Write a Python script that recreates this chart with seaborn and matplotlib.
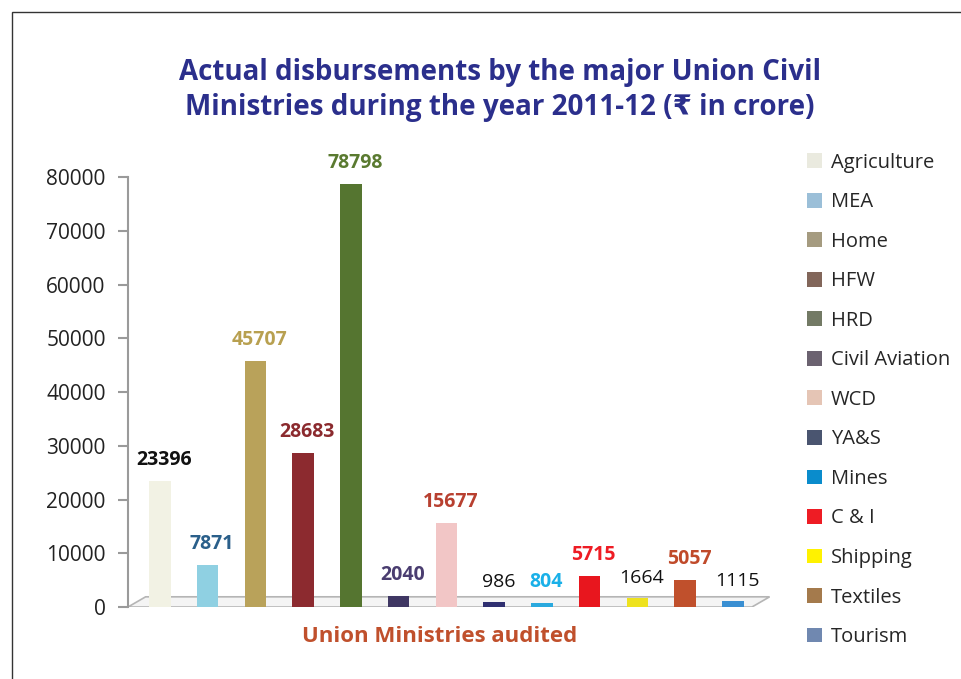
import matplotlib
matplotlib.use("Agg")
import matplotlib.pyplot as plt
import matplotlib.patches as mpatches
import seaborn as sns
import pandas as pd

categories = ["Agriculture", "MEA", "Home", "HFW", "HRD", "Civil Aviation", "WCD",
              "YA&S", "Mines", "C & I", "Shipping", "Textiles", "Tourism"]
values = [23396, 7871, 45707, 28683, 78798, 2040, 15677, 986, 804, 5715, 1664, 5057, 1115]
bar_colors = ["#f2f2e4", "#8fd0e2", "#b9a25a", "#8c2a2f", "#557530", "#3f3763", "#f2c6c6",
              "#2f2f70", "#2aa9de", "#e8161e", "#eee21e", "#c0502c", "#3a8fd2"]
legend_colors = ["#eaeadf", "#9bbfd8", "#a59b80", "#82665a", "#737a65", "#6b6270", "#e5c5b5",
                 "#4a5570", "#0a8ccc", "#ee1c24", "#fff200", "#a47a4c", "#7088b0"]
label_colors = ["#111111", "#2a5f8a", "#b8a050", "#8b2a2e", "#5a7a30", "#4a3d70", "#b84030",
                "#111111", "#1ab0e8", "#ee1c24", "#111111", "#c04a2a", "#111111"]
label_bold = [True, True, True, True, True, True, True, False, True, True, False, True, False]
yticks = [0, 10000, 20000, 30000, 40000, 50000, 60000, 70000, 80000]

sns.set_theme(style="white")
plt.rcParams["font.family"] = ["Open Sans", "DejaVu Sans"]

df = pd.DataFrame({"Ministry": categories, "Amount": values})

fig = plt.figure(figsize=(9.62, 6.79), dpi=100)
ax = fig.add_axes([0.133, 0.106, 0.667, 0.633])

# light 3D-style floor
floor = mpatches.Polygon([(-0.67, 0), (-0.3, 1900), (12.77, 1900), (12.4, 0)],
                         closed=True, facecolor="#f4f4f4", edgecolor="#b5b5b5", lw=1.2, zorder=0.5)
ax.add_patch(floor)

sns.barplot(data=df, x="Ministry", y="Amount", hue="Ministry", palette=bar_colors,
            order=categories, hue_order=categories, dodge=False, legend=False,
            width=0.45, saturation=1, ax=ax, edgecolor="none", zorder=2)

ax.set_xlim(-0.67, 12.77)
ax.set_ylim(0, 80000)
ax.set_yticks(yticks)
ax.set_yticklabels([str(t) for t in yticks], fontsize=15, color="#222222")
ax.set_xticks([])
ax.set_xlabel("Union Ministries audited", fontsize=16, fontweight="bold", color="#c0502c",
              labelpad=13)
ax.xaxis.set_label_coords(0.485, -0.045, transform=ax.transAxes)
ax.xaxis.label.set_va("top")
ax.set_ylabel("")
for s in ["top", "right", "bottom"]:
    ax.spines[s].set_visible(False)
ax.spines["left"].set_color("#9a9a9a")
ax.spines["left"].set_linewidth(1.5)
ax.tick_params(axis="y", length=7, width=1.5, color="#9a9a9a", left=True, pad=9)

for i, (v, c, b) in enumerate(zip(values, label_colors, label_bold)):
    ax.annotate(str(v), (i, v), xytext=(3, 8), textcoords="offset points",
                ha="center", va="bottom", fontsize=14,
                fontweight="bold" if b else "normal", color=c, annotation_clip=False)

fig.suptitle("Actual disbursements by the major Union Civil\nMinistries during the year 2011-12 (₹ in crore)",
             x=0.52, y=0.915, fontsize=20, fontweight="bold", color="#2b2f8c", linespacing=1.3)

handles = [mpatches.Patch(facecolor=c, edgecolor="none", label=n)
           for n, c in zip(categories, legend_colors)]
fig.legend(handles=handles, loc="upper left", bbox_to_anchor=(0.83, 0.787), frameon=False,
           fontsize=14.5, handlelength=0.75, handleheight=0.75, handletextpad=0.45,
           labelspacing=0.97, borderaxespad=0)

fig.add_artist(mpatches.Rectangle((0.012, -0.01), 1.2, 0.993, transform=fig.transFigure,
                                  fill=False, edgecolor="#333333", lw=1))

fig.savefig("out.png", dpi=100)
